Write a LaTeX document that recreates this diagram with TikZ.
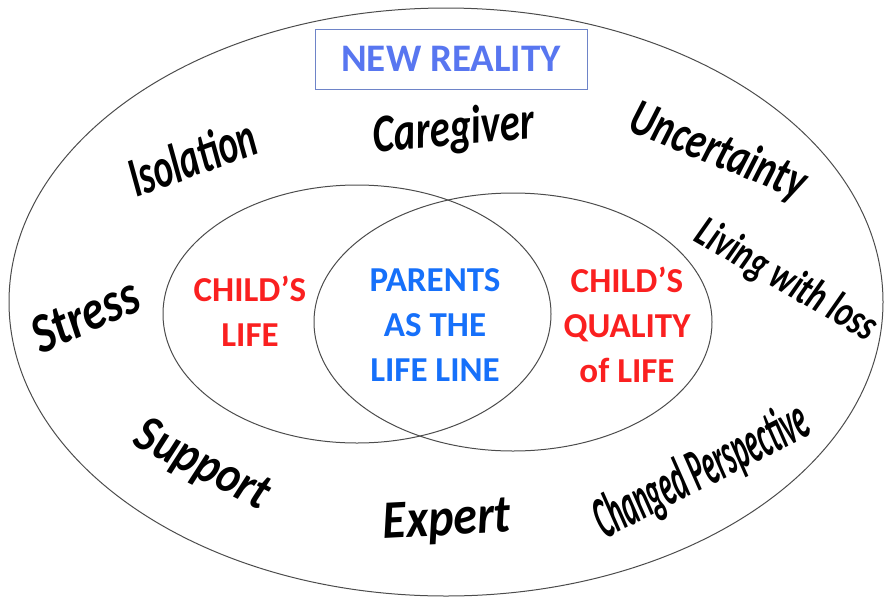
\documentclass[tikz,border=0pt]{standalone}
\usepackage{fontspec}
\usepackage{graphicx}
\setmainfont{Carlito}
\definecolor{lifered}{RGB}{250,32,32}
\definecolor{lineblue}{RGB}{22,112,250}
\definecolor{realblue}{RGB}{88,118,240}
\definecolor{frameblue}{RGB}{110,132,200}
\begin{document}
\begin{tikzpicture}[x=1pt, y=-1pt,
    ring/.style = {draw=black!70, line width=1pt},
    core/.style = {font=\bfseries\fontsize{35}{45}\selectfont, align=center, inner sep=0pt},
    word/.style = {font=\bfseries\itshape\fontsize{40}{40}\selectfont, inner sep=0pt},
    title/.style = {draw=frameblue, line width=0.9pt, text=realblue, font=\bfseries\fontsize{39}{39}\selectfont, minimum width=272pt, minimum height=60pt}
]
    \useasboundingbox (0,0) rectangle (886,598);

    % outer ring and the two overlapping circles
    \draw[ring] (446,302) ellipse [x radius=437pt, y radius=294pt];
    \draw[ring] (357,314) ellipse [x radius=194pt, y radius=129pt];
    \draw[ring] (513,322) ellipse [x radius=199pt, y radius=129pt];

    \node[title] (reality) at (451,59) {NEW REALITY};

    \node[core, text=lifered] (life) at (250,311) {CHILD'S\\LIFE};
    \node[core, text=lineblue] (parents) at (435,325) {PARENTS\\AS THE\\LIFE LINE};
    \node[core, text=lifered] (quality) at (627,325) {CHILD'S\\QUALITY\\of LIFE};

    % words around the ring
    \node[word, rotate=20] (isolation) at (192,157) {\scalebox{0.92}[1.4]{Isolation}};
    \node[word, rotate=5] (caregiver) at (454,131) {\scalebox{1.02}[1.35]{Caregiver}};
    \node[word, rotate=-22] (uncertainty) at (718,152) {\scalebox{0.95}[1.3]{Uncertainty}};
    \node[word, rotate=24] (stress) at (85,315) {\scalebox{1.15}[1.4]{Stress}};
    \node[word, rotate=-30] (loss) at (786,281) {\scalebox{0.8}[1.1]{Living with loss}};
    \node[word, rotate=-27] (support) at (202,466) {\scalebox{1.1}[1.3]{Support}};
    \node[word, rotate=3] (expert) at (447,522) {\scalebox{1.2}[1.35]{Expert}};
    \node[word, rotate=27] (perspective) at (702,472) {\scalebox{0.68}[1.5]{Changed Perspective}};
\end{tikzpicture}
\end{document}
